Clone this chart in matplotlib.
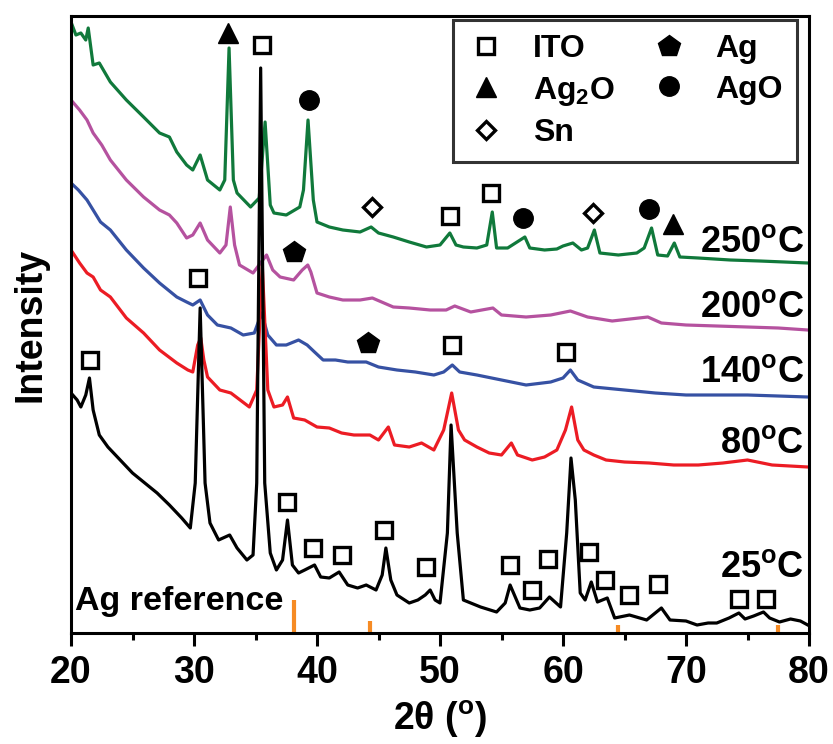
import matplotlib
matplotlib.use("Agg")
import matplotlib.pyplot as plt
from matplotlib.lines import Line2D

# ── XRD traces (2theta in degrees, intensity in arbitrary units, already offset) ──

tt_25 = [20.0, 20.5, 20.8, 21.2, 21.5, 21.8, 22.3, 23.0, 24.0, 25.0, 26.0, 27.0, 28.0,
         29.0, 29.7, 30.1, 30.5, 30.9, 31.3, 32.0, 32.9, 33.5, 34.3, 34.8, 35.1, 35.42,
         35.75, 36.2, 36.7, 37.2, 37.6, 38.0, 38.5, 39.0, 39.8, 40.3, 41.0, 41.8, 42.5,
         43.3, 44.0, 44.8, 45.3, 45.6, 46.0, 46.5, 47.5, 48.2, 48.8, 49.2, 49.6, 50.0,
         50.6, 50.9, 51.4, 51.9, 53.3, 54.6, 55.3, 55.7, 56.5, 57.3, 58.1, 58.9, 59.8,
         60.3, 60.65, 61.0, 61.4, 61.8, 62.3, 62.8, 63.6, 64.2, 65.4, 66.8, 68.0, 68.7,
         70.0, 70.9, 71.8, 72.5, 73.5, 74.3, 74.8, 75.5, 76.3, 76.8, 77.6, 78.5, 79.3,
         79.9]
i_25 = [240, 233, 226, 238, 255, 223, 198, 186, 173, 160, 150, 140, 128,
        115, 105, 150, 325, 150, 110, 93, 98, 85, 73, 78, 150, 565,
        150, 80, 63, 73, 113, 68, 60, 63, 68, 56, 55, 61, 48,
        45, 48, 43, 58, 85, 53, 38, 30, 33, 38, 43, 33, 30,
        100, 208, 100, 33, 26, 21, 30, 48, 25, 23, 25, 36, 26,
        100, 175, 133, 40, 33, 51, 31, 35, 15, 18, 13, 25, 13,
        12, 8, 10, 10, 15, 20, 14, 17, 21, 15, 11, 14, 12,
        8]

tt_80 = [20.0, 20.7, 21.3, 21.8, 22.4, 23.2, 24.5, 25.9, 27.2, 28.6, 29.5, 29.9, 30.3,
         30.55, 30.8, 31.1, 32.1, 33.0, 34.5, 35.1, 35.55, 36.0, 36.5, 37.2, 37.6, 38.1,
         39.0, 40.0, 41.0, 42.0, 43.0, 44.3, 45.0, 45.8, 46.3, 47.5, 48.5, 49.5, 50.3,
         50.95, 51.5, 52.0, 53.0, 54.0, 55.0, 55.8, 56.3, 57.5, 58.5, 59.5, 60.2, 60.7,
         61.2, 61.7, 62.5, 63.5, 65.0, 67.0, 69.0, 71.0, 73.0, 75.0, 77.0, 79.9]
i_80 = [383, 370, 360, 356, 343, 336, 315, 300, 283, 270, 263, 261, 288,
        295, 273, 256, 243, 240, 226, 243, 368, 243, 226, 228, 236, 215,
        213, 206, 205, 200, 198, 198, 193, 206, 188, 186, 190, 183, 203,
        240, 203, 193, 186, 180, 178, 190, 178, 173, 176, 183, 203, 226,
        193, 183, 178, 173, 171, 170, 168, 168, 170, 173, 168, 166]

tt_140 = [20.0, 20.6, 21.3, 21.8, 22.4, 23.2, 24.5, 25.9, 27.2, 28.6, 29.4, 29.9, 30.5,
          31.1, 31.9, 33.0, 34.0, 34.9, 35.5, 36.0, 36.7, 37.5, 38.5, 39.2, 39.8, 40.5,
          41.5, 42.5, 44.0, 45.0, 46.5, 48.0, 49.5, 50.3, 51.0, 51.6, 53.0, 55.0, 57.0,
          59.0, 60.0, 60.6, 61.2, 62.5, 65.0, 67.5, 70.0, 72.5, 75.0, 77.5, 79.9]
i_140 = [450, 443, 433, 423, 411, 403, 383, 365, 350, 336, 331, 328, 333,
         318, 308, 305, 298, 300, 320, 298, 288, 288, 293, 288, 281, 273,
         273, 271, 271, 266, 263, 261, 258, 261, 268, 261, 258, 253, 248,
         251, 255, 263, 253, 246, 243, 240, 238, 238, 238, 237, 236]

tt_200 = [20.0, 20.7, 21.3, 21.8, 22.5, 23.2, 24.5, 25.9, 27.2, 28.0, 28.6, 29.4, 29.9,
          30.5, 31.1, 32.1, 32.6, 32.95, 33.3, 33.7, 34.8, 35.9, 36.4, 37.0, 38.1, 38.8,
          39.25, 39.5, 40.0, 41.0, 42.1, 43.5, 44.5, 46.2, 47.5, 49.2, 50.5, 51.2, 52.5,
          54.3, 55.0, 57.0, 59.0, 60.6, 62.0, 64.0, 66.9, 68.0, 70.0, 72.5, 75.0, 77.5,
          79.9]
i_200 = [533, 523, 513, 500, 488, 473, 453, 436, 423, 418, 410, 395, 398,
         410, 393, 380, 388, 426, 388, 368, 360, 378, 363, 356, 353, 363,
         368, 361, 340, 336, 333, 333, 335, 326, 325, 323, 323, 327, 321,
         325, 318, 316, 318, 322, 316, 312, 316, 310, 308, 307, 306, 305,
         303]

tt_250 = [20.0, 20.4, 20.8, 21.2, 21.4, 21.8, 22.3, 23.2, 24.5, 25.9, 27.2, 28.0, 28.6,
          29.4, 29.9, 30.5, 31.1, 32.1, 32.5, 32.85, 33.2, 33.5, 34.6, 35.3, 35.78, 36.2,
          36.5, 37.5, 38.6, 38.9, 39.27, 39.7, 40.0, 41.0, 42.1, 43.5, 44.4, 45.0, 46.2,
          47.5, 48.9, 50.0, 50.8, 51.3, 51.9, 53.0, 53.8, 54.25, 54.6, 55.5, 56.9, 57.3,
          58.5, 59.5, 60.0, 60.8, 61.5, 62.0, 62.55, 63.0, 64.5, 66.0, 66.6, 67.2, 67.7,
          68.5, 69.05, 69.5, 71.0, 73.6, 76.0, 78.0, 79.9]
i_250 = [611, 598, 600, 593, 605, 568, 570, 551, 533, 516, 500, 496, 481,
         468, 463, 478, 453, 443, 453, 585, 453, 440, 426, 435, 511, 428,
         420, 418, 426, 443, 513, 433, 411, 406, 403, 401, 406, 400, 396,
         391, 386, 388, 400, 388, 386, 385, 388, 421, 385, 385, 396, 385,
         383, 384, 387, 390, 383, 385, 403, 380, 378, 380, 385, 405, 378,
         377, 390, 376, 375, 373, 372, 371, 370]

traces = [
    (tt_250, i_250, "#10793B"),
    (tt_200, i_200, "#B5529F"),
    (tt_140, i_140, "#3651A3"),
    (tt_80, i_80, "#EC1C24"),
    (tt_25, i_25, "#000000"),
]

temp_labels = ["250$^{o}$C", "200$^{o}$C", "140$^{o}$C", "80$^{o}$C", "25$^{o}$C"]
temp_label_y = [381, 316, 251, 180, 56]

# Ag reference pattern (position, relative stick height)
ag_ref_pos = [38.1, 44.3, 64.45, 77.45]
ag_ref_h = [33, 12, 8, 8]

# ── Phase markers placed above the peaks ──
ito_x = [35.53, 50.81, 54.15, 30.33, 50.98, 60.24, 21.54, 37.56, 39.67, 42.03, 45.45,
         48.86, 55.69, 57.48, 58.78, 62.11, 63.41, 65.37, 67.72, 74.31, 76.50]
ito_y = [588, 417, 440, 355, 288, 281, 273, 131, 85, 78, 103,
         66, 68, 43, 74, 81, 53, 38, 49, 34, 34]
ag2o_x = [32.76, 68.94]
ag2o_y = [600, 409]
ago_x = [39.35, 56.75, 66.99]
ago_y = [533, 415, 424]
sn_x = [44.47, 62.44]
sn_y = [426, 420]
ag_x = [38.13, 44.15]
ag_y = [381, 290]

# ── Style ─────────────────────────────────────────────────────────────────────
plt.rcParams["font.family"] = ["Liberation Sans", "DejaVu Sans"]
plt.rcParams["font.weight"] = "bold"
plt.rcParams["mathtext.fontset"] = "custom"
plt.rcParams["mathtext.rm"] = "Liberation Sans:bold"
plt.rcParams["mathtext.it"] = "Liberation Sans:bold"
plt.rcParams["mathtext.bf"] = "Liberation Sans:bold"
plt.rcParams["mathtext.default"] = "rm"

fig = plt.figure(figsize=(8.33, 7.44), dpi=100)
ax = fig.add_axes([71 / 833, 111 / 744, 738 / 833, 617 / 744])

for tt, ii, col in traces:
    ax.plot(tt, ii, color=col, lw=2.3, solid_joinstyle="round")

ax.vlines(ag_ref_pos, 0, ag_ref_h, color="#F68B24", lw=3)
ax.text(20.33, 23, "Ag reference", fontsize=24.5, fontweight="bold", ha="left", va="baseline")

for lab, yy in zip(temp_labels, temp_label_y):
    ax.text(79.6, yy, lab, fontsize=26, fontweight="bold", ha="right", va="baseline")

sq = dict(marker="s", ms=11.5, mfc="white", mec="black", mew=2.4, ls="none")
tri = dict(marker="^", ms=15, mfc="black", mec="black", mew=1, ls="none")
cir = dict(marker="o", ms=14, mfc="black", mec="black", mew=1, ls="none")
dia = dict(marker="D", ms=9, mfc="white", mec="black", mew=2.4, ls="none")
pen = dict(marker="p", ms=16, mfc="black", mec="black", mew=1, ls="none")

ax.plot(ito_x, ito_y, clip_on=False, **sq)
ax.plot(ag2o_x, ag2o_y, clip_on=False, **tri)
ax.plot(ago_x, ago_y, clip_on=False, **cir)
ax.plot(sn_x, sn_y, clip_on=False, **dia)
ax.plot(ag_x, ag_y, clip_on=False, **pen)

handles = [
    Line2D([], [], **sq),
    Line2D([], [], **tri),
    Line2D([], [], **dia),
    Line2D([], [], **pen),
    Line2D([], [], **cir),
]
labels = ["ITO", "Ag$_2$O", "Sn", "Ag", "AgO"]
leg = ax.legend(handles, labels, ncol=2, loc="upper right",
                bbox_to_anchor=(0.9837, 0.9935), borderaxespad=0,
                prop={"size": 23, "weight": "bold"}, frameon=True, fancybox=False,
                edgecolor="black", handlelength=1.2, handletextpad=0.85,
                columnspacing=1.1, labelspacing=0.32, borderpad=0.45)
leg.get_frame().set_linewidth(2.2)

ax.set_xlim(20, 80)
ax.set_ylim(0, 617)
ax.set_xticks([20, 30, 40, 50, 60, 70, 80])
ax.set_xticks([25, 35, 45, 55, 65, 75], minor=True)
ax.set_yticks([])
ax.tick_params(axis="x", which="major", direction="out", length=9, width=2.2,
               labelsize=27, pad=7)
ax.tick_params(axis="x", which="minor", direction="out", length=5, width=2.2)
for lbl in ax.get_xticklabels():
    lbl.set_fontweight("bold")
for sp in ax.spines.values():
    sp.set_linewidth(2.2)

ax.set_xlabel("2θ ($^{o}$)", fontsize=27, fontweight="bold", labelpad=5)
ax.set_ylabel("Intensity", fontsize=27, fontweight="bold", labelpad=16)

fig.savefig("out.png", dpi=100)
